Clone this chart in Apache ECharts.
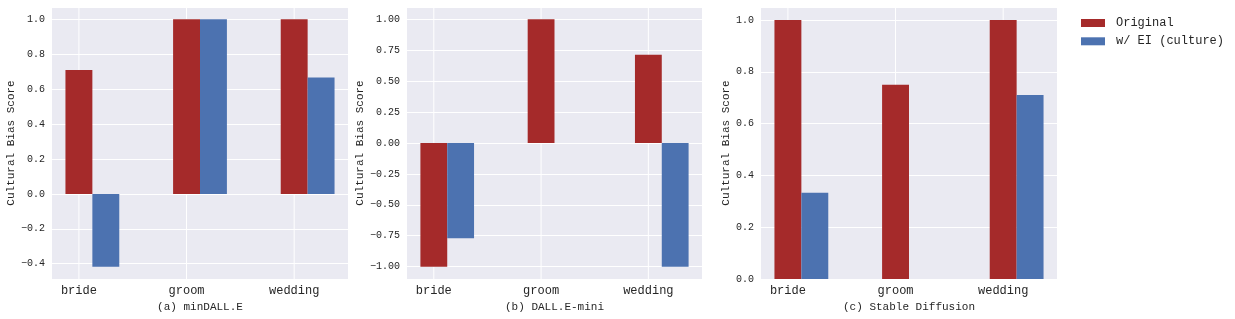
<!DOCTYPE html>
<html>
<head>
<meta charset="utf-8">
<script src="https://cdn.jsdelivr.net/npm/echarts@6/dist/echarts.min.js"></script>
<style>
html,body{margin:0;padding:0;background:#fff;}
#chart{width:1235px;height:319px;}
</style>
</head>
<body>
<div id="chart"></div>
<script>
const categories = ['bride', 'groom', 'wedding'];
const seriesNames = ['Original', 'w/ EI (culture)'];
const panelTitles = ['(a) minDALL.E', '(b) DALL.E-mini', '(c) Stable Diffusion'];
const minDalleOriginal = [0.71, 1.0, 1.0];
const minDalleEI = [-0.417, 1.0, 0.667];
const dalleMiniOriginal = [-1.0, 1.0, 0.714];
const dalleMiniEI = [-0.77, 0.0, -1.0];
const sdOriginal = [1.0, 0.75, 1.0];
const sdEI = [0.333, 0.0, 0.71];
const yMin = [-0.4877, -1.1, 0];
const yMax = [1.0708, 1.1, 1.05];
const yStep = [0.2, 0.25, 0.2];
const yDecimals = [1, 2, 1];

const FONT = 'Liberation Mono';
const TXT = '#262626';
const RED = '#A52A2A';
const BLUE = '#4C72B0';
const BAR_W = 0.25;

const panels = [
  [minDalleOriginal, minDalleEI],
  [dalleMiniOriginal, dalleMiniEI],
  [sdOriginal, sdEI]
];
const gridPos = [
  {left: 52, width: 296},
  {left: 407, width: 295},
  {left: 761, width: 296}
];
const nameGaps = [35, 41, 29];

const grids = [], xAxes = [], yAxes = [], series = [];
function fmt(v, d) {
  const s = Math.abs(v).toFixed(d);
  return (v < -1e-9 ? '\u2212' : '') + s;
}
panels.forEach((pd, i) => {
  grids.push({left: gridPos[i].left, width: gridPos[i].width, top: 7, height: 272,
    outerBoundsMode: 'none', containLabel: false,
    show: true, backgroundColor: '#EAEAF2', borderWidth: 0});
  xAxes.push({type: 'value', gridIndex: i, min: -0.25, max: 2.5,
    axisLine: {show: false}, axisTick: {show: false}, splitLine: {show: false},
    axisLabel: {customValues: [0, 1, 2], formatter: v => categories[Math.round(v)] || '',
      fontFamily: FONT, fontSize: 12, color: TXT, margin: 6},
    name: panelTitles[i], nameLocation: 'middle', nameGap: 23,
    nameTextStyle: {fontFamily: FONT, fontSize: 11, color: TXT}});
  yAxes.push({type: 'value', gridIndex: i, min: yMin[i], max: yMax[i],
    minInterval: yStep[i], maxInterval: yStep[i], splitNumber: 8,
    axisLine: {show: false}, axisTick: {show: false},
    splitLine: {show: true, lineStyle: {color: '#ffffff', width: 1}},
    axisLabel: {showMinLabel: i === 2, showMaxLabel: false,
      formatter: v => fmt(v, yDecimals[i]),
      fontFamily: FONT, fontSize: 10, color: TXT, margin: 7},
    name: 'Cultural Bias Score', nameLocation: 'middle', nameGap: nameGaps[i],
    nameTextStyle: {fontFamily: FONT, fontSize: 11, color: TXT}});
  // vertical grid lines at category positions
  series.push({type: 'custom', xAxisIndex: i, yAxisIndex: i, silent: true, z: 1,
    data: categories.map((c, k) => [k, 0]),
    renderItem: function (params, api) {
      const p = api.coord([api.value(0), 0]);
      const cs = params.coordSys;
      return {type: 'line', shape: {x1: p[0], y1: cs.y, x2: p[0], y2: cs.y + cs.height},
        style: {stroke: '#ffffff', lineWidth: 1}};
    }});
  pd.forEach((vals, s) => {
    const off = s * BAR_W;
    series.push({type: 'custom', name: seriesNames[s], xAxisIndex: i, yAxisIndex: i, z: 2,
      itemStyle: {color: s === 0 ? RED : BLUE},
      data: vals.map((v, k) => [k, v]),
      renderItem: function (params, api) {
        const x = api.value(0), v = api.value(1);
        const p0 = api.coord([x + off - BAR_W / 2, 0]);
        const p1 = api.coord([x + off + BAR_W / 2, v]);
        return {type: 'rect',
          shape: {x: p0[0], y: Math.min(p0[1], p1[1]), width: p1[0] - p0[0], height: Math.abs(p1[1] - p0[1])},
          style: {fill: s === 0 ? RED : BLUE}};
      }});
  });
});

const chart = echarts.init(document.getElementById('chart'), null, {renderer: 'canvas'});
chart.setOption({
  animation: false,
  backgroundColor: '#ffffff',
  grid: grids, xAxis: xAxes, yAxis: yAxes, series: series,
  legend: {orient: 'vertical', left: 1081, top: 17, padding: 0, itemWidth: 24, itemHeight: 8, itemGap: 6.3,
    icon: 'rect', data: seriesNames.map((n, s) => ({name: n, itemStyle: {color: s === 0 ? RED : BLUE}})),
    textStyle: {fontFamily: FONT, fontSize: 12, color: TXT, padding: [0, 0, 0, 6]}}
});
</script>
</body>
</html>
